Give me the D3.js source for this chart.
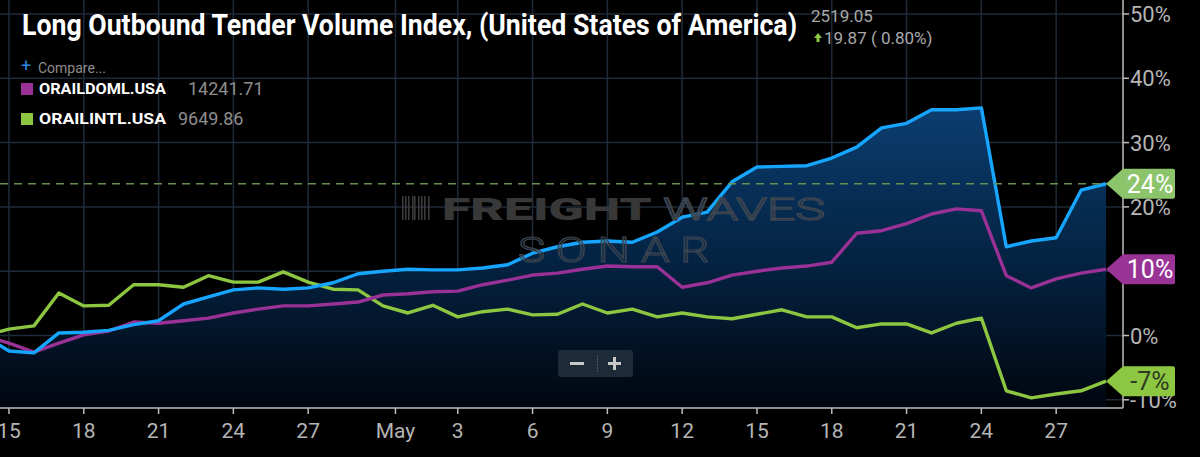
<!DOCTYPE html>
<html lang="en">
<head>
<meta charset="utf-8">
<script src="https://cdnjs.cloudflare.com/ajax/libs/d3/7.8.5/d3.min.js"></script>
<style>
  html, body { margin: 0; padding: 0; background: #000; }
  svg { display: block; font-family: Roboto, "Noto Sans", sans-serif; }
</style>
</head>
<body>
<div id="chart"></div>
<script>
// daily points, Apr 14 .. May 29 (percent change from the first day)
var days = ["Apr 14","Apr 15","Apr 16","Apr 17","Apr 18","Apr 19","Apr 20","Apr 21","Apr 22","Apr 23",
  "Apr 24","Apr 25","Apr 26","Apr 27","Apr 28","Apr 29","Apr 30","May 1","May 2","May 3","May 4",
  "May 5","May 6","May 7","May 8","May 9","May 10","May 11","May 12","May 13","May 14","May 15",
  "May 16","May 17","May 18","May 19","May 20","May 21","May 22","May 23","May 24","May 25","May 26",
  "May 27","May 28","May 29"];

var otviVals = [0,-2.4,-2.7,0.4,0.5,0.8,1.7,2.3,4.9,6.0,7.1,7.4,7.2,7.4,8.2,9.6,10.0,10.3,10.2,10.2,
  10.5,11.0,12.8,13.8,14.5,14.7,14.5,16.1,18.4,19.2,23.9,26.2,26.3,26.4,27.6,29.3,32.3,33.0,35.1,35.1,
  35.4,13.8,14.7,15.2,22.6,23.6];
var domlVals = [0,-1.2,-2.6,-1.2,0.1,0.7,2.1,1.9,2.3,2.7,3.5,4.1,4.6,4.6,4.9,5.2,6.3,6.5,6.8,6.9,
  7.9,8.6,9.4,9.7,10.3,10.8,10.7,10.7,7.5,8.2,9.4,10.0,10.5,10.8,11.4,15.9,16.3,17.4,18.9,19.7,
  19.4,9.3,7.4,8.8,9.7,10.3];
var intlVals = [0,1.0,1.5,6.6,4.6,4.7,7.9,7.9,7.5,9.3,8.3,8.3,9.9,8.3,7.2,7.1,4.6,3.5,4.7,2.9,
  3.7,4.1,3.2,3.3,4.9,3.5,4.1,2.9,3.5,2.9,2.6,3.3,4.0,2.9,2.9,1.2,1.8,1.8,0.4,1.9,
  2.7,-8.6,-9.7,-9.1,-8.6,-7.1];

// x tick positions as day index (Apr 14 = 0), "May" sits on the month boundary
var xTickPos = [1,4,7,10,13,16.5,19,22,25,28,31,34,37,40,43];
var xTickLabels = ["15","18","21","24","27","May","3","6","9","12","15","18","21","24","27"];
var yTicks = [50,40,30,20,10,0,-10];

var width = 1200, height = 457;
var plotRight = 1123, plotBottom = 408;

var svg = d3.select("#chart").append("svg")
    .attr("width", width)
    .attr("height", height);

svg.append("rect").attr("width", width).attr("height", height).attr("fill", "#000");

var x = d3.scaleLinear().domain([0.64, 45.68]).range([0, plotRight]);
var y = d3.scaleLinear().domain([-10, 50]).range([399.8, 14]);

var defs = svg.append("defs");
defs.append("clipPath").attr("id", "clip")
  .append("rect").attr("x", 0).attr("y", 0).attr("width", plotRight).attr("height", plotBottom);

var grad = defs.append("linearGradient").attr("id", "areaGrad")
    .attr("gradientUnits", "userSpaceOnUse")
    .attr("x1", 0).attr("y1", 100).attr("x2", 0).attr("y2", plotBottom);
grad.append("stop").attr("offset", "0%").attr("stop-color", "#0b3f72");
grad.append("stop").attr("offset", "55%").attr("stop-color", "#04213f");
grad.append("stop").attr("offset", "100%").attr("stop-color", "#01060f");

// grid
var grid = svg.append("g");
grid.selectAll(".vg").data(xTickPos).enter().append("line")
    .attr("x1", d => x(d)).attr("x2", d => x(d))
    .attr("y1", 0).attr("y2", plotBottom)
    .attr("stroke", "#1f2b39").attr("stroke-width", 1.5);
grid.selectAll(".hg").data(yTicks).enter().append("line")
    .attr("x1", 0).attr("x2", plotRight)
    .attr("y1", d => y(d)).attr("y2", d => y(d))
    .attr("stroke", "#1f2b39").attr("stroke-width", 1.5);

var plot = svg.append("g").attr("clip-path", "url(#clip)");

var idx = days.map((d, i) => i);

// area under main series
var area = d3.area()
    .x(i => x(i))
    .y0(plotBottom)
    .y1(i => y(otviVals[i]));
plot.append("path").datum(idx).attr("d", area).attr("fill", "url(#areaGrad)");

// watermark
var wm = svg.append("g");
var barsX = [402, 405, 408, 412, 414, 418, 421, 424, 428];
wm.selectAll(".bar").data(barsX).enter().append("rect")
    .attr("x", d => d).attr("y", 196).attr("width", 1.6).attr("height", 24)
    .attr("fill", "#3a3a3a");
wm.append("text").attr("x", 442).attr("y", 220)
    .attr("font-size", 31).attr("font-weight", 900)
    .attr("textLength", 210).attr("lengthAdjust", "spacingAndGlyphs")
    .attr("fill", "#383838").text("FREIGHT");
wm.append("text").attr("x", 663).attr("y", 220)
    .attr("font-size", 31).attr("font-weight", 300)
    .attr("textLength", 162).attr("lengthAdjust", "spacingAndGlyphs")
    .attr("fill", "none").attr("stroke", "#3c4550").attr("stroke-width", 1.3).text("WAVES");
wm.append("g").attr("transform", "translate(518,262) scale(1.3,1)")
  .append("text").attr("x", 0).attr("y", 0)
    .attr("font-size", 35).attr("font-weight", 300)
    .attr("letter-spacing", 6)
    .attr("textLength", 153).attr("lengthAdjust", "spacing")
    .attr("fill", "none").attr("stroke", "#3c4550").attr("stroke-width", 1.2).text("SONAR");

// dashed level of last main value
var lastIdx = idx.length - 1;
svg.append("line")
    .attr("x1", 0).attr("x2", plotRight)
    .attr("y1", y(otviVals[lastIdx])).attr("y2", y(otviVals[lastIdx]))
    .attr("stroke", "#668f52").attr("stroke-width", 1.4)
    .attr("stroke-dasharray", "8,6");

function drawLine(vals, color) {
  var line = d3.line().x(i => x(i)).y(i => y(vals[i]));
  plot.append("path").datum(idx).attr("d", line)
      .attr("fill", "none").attr("stroke", color)
      .attr("stroke-width", 3.4).attr("stroke-linejoin", "round");
}
drawLine(intlVals, "#8dc641");
drawLine(domlVals, "#9a3196");
drawLine(otviVals, "#16a6ff");

// axes
var axisColor = "#bdbdbd";
svg.append("line").attr("x1", 0).attr("x2", plotRight).attr("y1", plotBottom).attr("y2", plotBottom)
    .attr("stroke", axisColor).attr("stroke-width", 1.5);
svg.append("line").attr("x1", plotRight).attr("x2", plotRight).attr("y1", 0).attr("y2", plotBottom)
    .attr("stroke", axisColor).attr("stroke-width", 1.5);

var xAxis = svg.append("g");
xAxis.selectAll(".xt").data(xTickPos).enter().append("line")
    .attr("x1", d => x(d)).attr("x2", d => x(d))
    .attr("y1", plotBottom).attr("y2", plotBottom + 6)
    .attr("stroke", axisColor).attr("stroke-width", 1.5);
xAxis.selectAll(".xl").data(xTickPos).enter().append("text")
    .attr("x", d => x(d)).attr("y", 438)
    .attr("text-anchor", "middle")
    .attr("font-size", 21).attr("fill", "#b5b5b5")
    .text((d, i) => xTickLabels[i]);

var yAxis = svg.append("g");
yAxis.selectAll(".yt").data(yTicks).enter().append("line")
    .attr("x1", plotRight).attr("x2", plotRight + 6)
    .attr("y1", d => y(d)).attr("y2", d => y(d))
    .attr("stroke", axisColor).attr("stroke-width", 1.5);
yAxis.selectAll(".yl").data(yTicks).enter().append("text")
    .attr("x", 1130).attr("y", d => y(d) + 8)
    .attr("font-size", 22).attr("fill", "#b5b5b5")
    .text(d => d + "%");

// value tags at the right edge
function tag(val, fill, textColor) {
  var cy = y(val), xp = x(lastIdx);
  var g = svg.append("g");
  g.append("path")
    .attr("d", "M" + xp + "," + cy + " L" + (plotRight) + "," + (cy - 15) +
      " L" + 1173 + "," + (cy - 15) + " Q1175," + (cy - 15) + " 1175," + (cy - 13) +
      " L1175," + (cy + 13) + " Q1175," + (cy + 15) + " 1173," + (cy + 15) +
      " L" + plotRight + "," + (cy + 15) + " Z")
    .attr("fill", fill);
  g.append("text").attr("x", 1150).attr("y", cy + 9)
    .attr("text-anchor", "middle").attr("font-size", 25)
    .attr("fill", textColor).text(Math.round(val) + "%");
}
tag(otviVals[lastIdx], "#8cc46c", "#ffffff");
tag(domlVals[lastIdx], "#9a3396", "#ffffff");
tag(intlVals[lastIdx], "#8dc641", "#2e3b22");

// zoom buttons
var zb = svg.append("g");
zb.append("rect").attr("x", 558).attr("y", 350).attr("width", 75).attr("height", 27)
    .attr("rx", 3).attr("fill", "#1d2b38");
zb.append("rect").attr("x", 570).attr("y", 362).attr("width", 14).attr("height", 3).attr("fill", "#c8c8c8");
zb.append("rect").attr("x", 608).attr("y", 362).attr("width", 13).attr("height", 3).attr("fill", "#c8c8c8");
zb.append("rect").attr("x", 613).attr("y", 357).attr("width", 3).attr("height", 13).attr("fill", "#c8c8c8");
zb.append("line").attr("x1", 597.5).attr("x2", 597.5).attr("y1", 355).attr("y2", 372)
    .attr("stroke", "#4a5866").attr("stroke-width", 1).attr("stroke-dasharray", "2,1");

// header
svg.append("text").attr("x", 22).attr("y", 35)
    .attr("font-size", 30).attr("font-weight", 700).attr("fill", "#ffffff")
    .attr("textLength", 775).attr("lengthAdjust", "spacingAndGlyphs")
    .text("Long Outbound Tender Volume Index, (United States of America)");
svg.append("text").attr("x", 811).attr("y", 22)
    .attr("font-size", 17).attr("fill", "#a9a9a9").text("2519.05");
svg.append("path").attr("d", "M814,38 L818,33 L822,38 L819.5,38 L819.5,42 L816.5,42 L816.5,38 Z")
    .attr("fill", "#8dc641");
svg.append("text").attr("x", 824).attr("y", 44)
    .attr("font-size", 17).attr("fill", "#a9a9a9").text("19.87 ( 0.80%)");

svg.append("text").attr("x", 21).attr("y", 72)
    .attr("font-size", 18).attr("fill", "#2a86e0").text("+");
svg.append("text").attr("x", 38).attr("y", 73)
    .attr("font-size", 14).attr("fill", "#8c8c8c").text("Compare...");

var legend = [
  {name: "ORAILDOML.USA", value: "14241.71", color: "#9a3196", y: 88, vx: 188},
  {name: "ORAILINTL.USA", value: "9649.86", color: "#8dc641", y: 118, vx: 178}
];
legend.forEach(function(d) {
  svg.append("rect").attr("x", 21).attr("y", d.y - 5).attr("width", 12).attr("height", 12).attr("fill", d.color);
  svg.append("text").attr("x", 39).attr("y", d.y + 6)
    .attr("font-size", 15).attr("font-weight", 700).attr("fill", "#ffffff")
    .attr("textLength", 127).attr("lengthAdjust", "spacingAndGlyphs").text(d.name);
  svg.append("text").attr("x", d.vx).attr("y", d.y + 7)
    .attr("font-size", 18).attr("fill", "#8e8e8e").text(d.value);
});
</script>
</body>
</html>
